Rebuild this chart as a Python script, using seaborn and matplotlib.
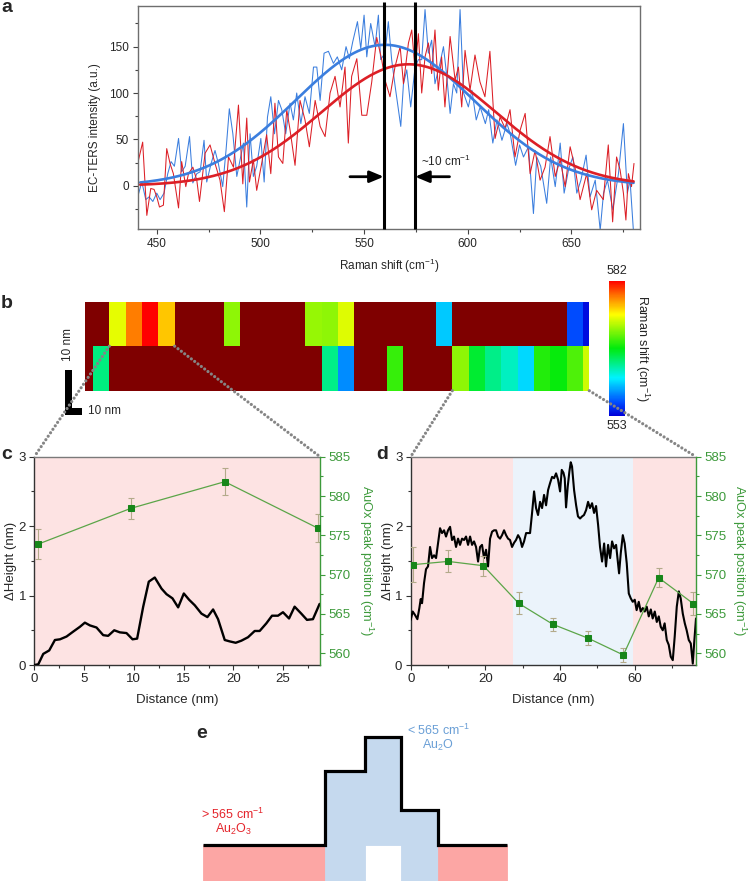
import numpy as np
import pandas as pd
import matplotlib
matplotlib.use("Agg")
import matplotlib.pyplot as plt
import seaborn as sns
from matplotlib.colors import LinearSegmentedColormap
from matplotlib.patches import ConnectionPatch, Rectangle
from matplotlib.ticker import MultipleLocator

# ---------------- panel a : EC-TERS spectra ----------------
red_shift = [440.8, 443.2, 445.2, 447.1, 448.7, 450.0, 451.3, 453.2, 454.8, 456.4,
             458.0, 460.5, 462.0, 464.0, 465.3, 467.4, 469.3, 470.6, 473.3, 475.7,
             478.1, 480.5, 482.6, 484.6, 487.0, 489.4, 491.5, 493.4, 494.7, 496.6,
             498.2, 500.6, 503.0, 505.0, 507.0, 508.7, 510.8, 512.7, 514.3, 516.7,
             519.1, 521.5, 523.6, 526.4, 528.8, 531.2, 533.6, 536.0, 538.4, 540.8,
             542.4, 544.0, 546.5, 548.9, 551.3, 553.7, 556.1, 558.5, 560.1, 562.5,
             564.9, 567.4, 569.0, 571.4, 573.0, 574.6, 576.2, 577.8, 579.4, 581.0,
             582.6, 584.2, 585.8, 587.4, 589.0, 591.5, 593.9, 595.5, 597.1, 598.7,
             601.1, 603.5, 605.9, 608.3, 610.7, 613.2, 615.6, 618.0, 620.4, 622.8,
             625.3, 627.7, 630.1, 632.5, 634.9, 637.3, 639.7, 642.2, 644.6, 647.0,
             649.4, 651.8, 654.2, 657.4, 659.8, 662.2, 665.4, 667.8, 669.9, 671.8,
             673.5, 675.1, 676.3, 677.5, 679.0, 680.2]
red_counts = [24, 47, -32, -3, -4, -12, -23, -21, 40, 24,
              13, -24, 26, -1, 13, 20, 6, -17, 35, 44,
              24, 6, -28, 31, 20, 87, 2, 73, 4, 28,
              -5, 24, 55, 13, 89, 31, 24, 82, 60, 22,
              92, 71, 42, 92, 64, 53, 100, 118, 85, 128,
              46, 118, 137, 76, 76, 112, 160, 136, 114, 96,
              128, 150, 110, 154, 168, 125, 164, 100, 139, 154,
              121, 168, 103, 139, 85, 161, 114, 128, 85, 146,
              103, 141, 112, 96, 145, 51, 74, 62, 82, 31,
              60, 78, 13, 38, 6, 20, 53, 10, 28, -1,
              42, 19, -15, 13, -26, -5, -15, 44, -39, 31,
              17, -8, -37, 13, -1, 24]
blue_shift = [440.8, 442.8, 444.7, 446.3, 448.1, 450.0, 451.6, 453.5, 455.3, 456.9,
              458.5, 460.5, 462.0, 463.7, 465.8, 467.4, 469.3, 470.9, 472.8, 474.1,
              476.2, 478.1, 479.7, 481.8, 483.4, 485.0, 486.7, 488.6, 490.2, 491.8,
              493.4, 495.0, 496.6, 498.2, 500.2, 501.8, 503.4, 505.0, 506.8, 508.7,
              510.3, 512.2, 514.3, 515.9, 517.5, 519.5, 521.5, 523.6, 525.6, 527.2,
              528.8, 530.7, 532.8, 535.2, 537.1, 539.2, 541.3, 542.9, 544.5, 546.8,
              548.4, 550.0, 551.3, 553.2, 555.3, 556.9, 558.0, 560.1, 561.7, 563.3,
              565.0, 567.7, 569.0, 570.6, 572.5, 574.6, 576.2, 577.8, 579.4, 581.0,
              582.6, 584.2, 586.6, 588.3, 589.9, 591.5, 593.1, 594.7, 596.3, 598.0,
              600.3, 602.0, 604.1, 606.0, 608.5, 610.1, 612.1, 614.1, 616.5, 618.9,
              620.5, 623.1, 625.0, 626.9, 629.3, 631.7, 633.3, 635.2, 638.1, 640.0,
              642.2, 644.6, 646.5, 648.6, 650.7, 652.6, 654.6, 657.1, 659.0, 661.5,
              663.9, 665.5, 667.4, 670.0, 672.7, 675.1, 677.0, 678.3, 679.9]
blue_counts = [-12, 4, -15, -12, -17, -8, -15, -8, 13, 26,
               21, 51, 15, 21, 53, 3, 13, 15, 49, 4,
               24, 38, 24, -1, 38, 83, 56, 10, 28, 46,
               -23, 56, 10, 21, 51, 4, 74, 96, 56, 92,
               82, 56, 89, 71, 100, 67, 96, 78, 128, 128,
               92, 143, 145, 132, 139, 125, 150, 137, 155, 177,
               148, 184, 139, 175, 150, 184, 136, 143, 177, 136,
               107, 64, 110, 125, 85, 128, 136, 136, 190, 143,
               157, 110, 132, 150, 118, 78, 110, 100, 190, 100,
               85, 103, 71, 85, 67, 82, 46, 71, 49, 67,
               56, 22, 44, 31, 42, -30, 31, 21, -19, 31,
               -1, 46, -8, 17, 31, -8, 6, 33, -12, 6,
               -48, -8, 6, -26, 13, 67, -8, 6, -48]
# Gaussian fits (blue, red): amplitude, centre, sigma
fit_amp = [152, 131]
fit_center = [560.0, 571.5]
fit_sigma = [43.0, 42.0]
peak_lines = [559.5, 574.6]

# ---------------- panel b : peak-position map ----------------
nan = np.nan
map_top = [nan, nan, 574.0, 578.5, 582.0, 576.4, nan, nan, nan, 571.5,
           nan, nan, nan, nan, 571.8, 571.5, 573.8, nan, nan, nan,
           nan, nan, 559.8, nan, nan, nan, nan, nan, nan, nan,
           555.9, 553.5]
map_bottom = [nan, 564.5, nan, nan, nan, nan, nan, nan, nan, nan,
              nan, nan, nan, nan, nan, 564.3, 557.9, nan, nan, 569.0,
              nan, nan, nan, 571.5, 566.5, 564.3, 562.8, 560.3, 568.5, 567.7,
              569.7, 573.3]
map_vmin, map_vmax = 553, 582

# ---------------- panel c ----------------
c_dist = [0, 0.4, 0.9, 1.5, 2.07, 2.58, 3.24, 3.9, 4.58, 5.08,
          5.59, 6.25, 6.92, 7.42, 8.03, 8.6, 9.26, 9.87, 10.33, 10.94,
          11.5, 12.1, 12.78, 13.28, 13.88, 14.45, 15.02, 15.55, 16.12, 16.79,
          17.39, 17.96, 18.46, 19.13, 19.63, 20.23, 20.8, 21.47, 22.14, 22.64,
          23.31, 23.88, 24.48, 24.98, 25.59, 26.15, 26.82, 27.39, 27.99, 28.66]
c_height = [0, 0.01, 0.16, 0.21, 0.36, 0.37, 0.41, 0.48, 0.55, 0.61,
            0.57, 0.54, 0.43, 0.42, 0.5, 0.47, 0.46, 0.37, 0.38, 0.84,
            1.2, 1.26, 1.1, 1.02, 0.96, 0.83, 1.03, 0.94, 0.86, 0.74,
            0.69, 0.8, 0.66, 0.36, 0.34, 0.32, 0.35, 0.4, 0.49, 0.49,
            0.6, 0.71, 0.71, 0.76, 0.67, 0.84, 0.74, 0.65, 0.66, 0.88]
c_pos = [0.33, 9.7, 19.13, 28.5]
c_peak = [573.85, 578.43, 581.82, 575.9]
c_err = [1.9, 1.3, 1.75, 1.8]
c_edges = [0, 28.7]
c_phase = ["Au2O3"]

# ---------------- panel d ----------------
d_dist = [0, 0.54, 1.16, 1.79, 2.32, 2.68, 3.04, 3.57, 4.1, 4.64,
          5.18, 5.71, 6.25, 6.79, 7.32, 7.86, 8.39, 8.93, 9.46, 10,
          10.54, 11.07, 11.6, 12.14, 12.68, 13.21, 13.75, 14.29, 14.82, 15.36,
          15.9, 16.43, 16.96, 17.5, 18.04, 18.57, 19.1, 19.64, 20.18, 20.71,
          21.25, 21.79, 22.32, 22.86, 23.39, 23.93, 24.46, 25, 25.54, 26.07,
          26.6, 27.14, 27.68, 28.2, 28.75, 29.29, 29.82, 30.36, 30.9, 31.43,
          31.96, 32.5, 33.04, 33.57, 34.1, 34.64, 35.18, 35.71, 36.25, 36.79,
          37.32, 37.86, 38.4, 38.93, 39.46, 40, 40.45, 40.9, 41.25, 41.6,
          42.05, 42.5, 42.86, 43.2, 43.75, 44.3, 44.8, 45.36, 45.9, 46.4,
          46.96, 47.5, 48, 48.57, 49.1, 49.64, 50.18, 50.7, 51.25, 51.8,
          52.3, 52.86, 53.4, 53.93, 54.46, 55, 55.54, 55.8, 56.25, 56.8,
          57.3, 57.86, 58.4, 58.93, 59.46, 60, 60.5, 61.07, 61.6, 62.14,
          62.68, 63.2, 63.75, 64.3, 64.8, 65.36, 65.9, 66.43, 66.96, 67.5,
          68, 68.57, 69.1, 69.64, 70.18, 70.7, 71.25, 71.8, 72.3, 72.86,
          73.4, 73.9, 74.46, 75, 75.54, 75.9, 76.4]
d_height = [0.65, 0.77, 0.72, 0.66, 0.82, 0.95, 0.89, 1.18, 1.38, 1.42,
            1.7, 1.54, 1.58, 1.54, 1.75, 1.97, 1.9, 1.94, 1.85, 1.94,
            1.99, 1.8, 1.85, 1.7, 1.82, 1.73, 1.82, 1.8, 1.85, 1.73,
            1.85, 1.73, 1.78, 1.7, 1.49, 1.7, 1.73, 1.54, 1.66, 1.42,
            1.82, 1.92, 1.94, 1.94, 1.85, 1.82, 1.87, 1.94, 1.87, 1.82,
            1.8, 1.7, 1.76, 1.8, 1.87, 1.82, 1.7, 1.78, 1.9, 1.9,
            1.9, 2.19, 2.5, 2.26, 2.16, 2.35, 2.26, 2.45, 2.3, 2.52,
            2.62, 2.71, 2.69, 2.76, 2.67, 2.5, 2.81, 2.77, 2.69, 2.27,
            2.57, 2.79, 2.92, 2.86, 2.52, 2.3, 2.14, 2.11, 2.14, 2.16,
            2.23, 2.35, 2.26, 2.33, 2.19, 2.29, 2.02, 1.7, 1.49, 1.75,
            1.42, 1.73, 1.54, 1.78, 1.68, 1.73, 1.46, 1.32, 1.61, 1.87,
            1.75, 1.46, 1.03, 0.96, 0.91, 0.94, 0.79, 0.91, 0.77, 0.82,
            0.77, 0.84, 0.7, 0.8, 0.67, 0.77, 0.62, 0.7, 0.55, 0.5,
            0.6, 0.36, 0.29, 0.12, 0.07, 0.41, 0.84, 1.06, 0.96, 0.74,
            0.6, 0.5, 0.36, 0.31, 0.02, 0.31, 0.67]
d_pos = [0.54, 10.0, 19.46, 28.93, 38.1, 47.6, 56.96, 66.4, 75.7]
d_peak = [571.26, 571.68, 571.13, 566.34, 563.67, 561.89, 559.77, 569.6, 566.3]
d_err = [2.2, 1.4, 1.3, 1.4, 0.8, 0.9, 0.95, 1.23, 1.44]
d_edges = [0, 27.5, 59.4, 76.4]
d_phase = ["Au2O3", "Au2O", "Au2O3"]

# ---------------- panel e : schematic ----------------
e_edges = [0, 12.2, 16.2, 19.8, 23.5, 30.4]
e_levels = [0, 7.4, 10.8, 3.5, 0]
e_floor = [-3.6, -3.6, 0, -3.6, -3.6]
e_phase = ["Au2O3", "Au2O", "Au2O", "Au2O", "Au2O3"]

# ---------------- styling ----------------
sns.set_theme(style="ticks")
plt.rcParams["font.family"] = ["Liberation Sans", "DejaVu Sans"]
plt.rcParams["mathtext.fontset"] = "custom"
plt.rcParams["mathtext.rm"] = "Liberation Sans"
plt.rcParams["mathtext.it"] = "Liberation Sans:italic"
plt.rcParams["mathtext.bf"] = "Liberation Sans:bold"
plt.rcParams["mathtext.default"] = "regular"

BLUE = "#3b7ede"
RED = "#dc1f26"
GREEN_LINE = "#5ba548"
GREEN_MK = "#17861a"
GREEN_TXT = "#3d9a3b"
ERR_C = "#b3aa8a"
BG = {"Au2O3": "#fde3e3", "Au2O": "#ebf3fb"}
E_FILL = {"Au2O3": "#fca6a4", "Au2O": "#c5d9ee"}
SPINE = "#6e6e6e"

W, H = 749, 881
fig = plt.figure(figsize=(W / 100, H / 100), dpi=100)


def box(l, t, r, b):
    return [l / W, 1 - b / H, (r - l) / W, (b - t) / H]


def ftext(px, py, s, **kw):
    fig.text(px / W, 1 - py / H, s, **kw)


# ---------- a ----------
ax_a = fig.add_axes(box(137.7, 5.7, 640, 229))
sns.lineplot(x=blue_shift, y=blue_counts, ax=ax_a, color=BLUE, lw=0.75,
             sort=False, estimator=None)
sns.lineplot(x=red_shift, y=red_counts, ax=ax_a, color=RED, lw=0.75,
             sort=False, estimator=None)
fit_x = np.linspace(442, 680, 400)
for amp, cen, sig, col in zip(fit_amp, fit_center, fit_sigma, [BLUE, RED]):
    sns.lineplot(x=fit_x, y=amp * np.exp(-(fit_x - cen) ** 2 / (2 * sig ** 2)),
                 ax=ax_a, color=col, lw=1.9, sort=False, estimator=None)
ax_a.set_xlim(440.8, 683.1)
ax_a.set_ylim(-46.7, 194.2)
ax_a.vlines(peak_lines, -46.7, 198.3, colors="black", lw=2.2, clip_on=False, zorder=5)
arrow_y = 9.7
ap = dict(arrowstyle="-|>,head_length=0.6,head_width=0.25", color="black", lw=2,
          mutation_scale=14, shrinkA=0, shrinkB=0)
ax_a.annotate("", xy=(peak_lines[0], arrow_y), xytext=(peak_lines[0] - 16.3, arrow_y),
              arrowprops=ap, zorder=6)
ax_a.annotate("", xy=(peak_lines[1], arrow_y), xytext=(peak_lines[1] + 16.6, arrow_y),
              arrowprops=ap, zorder=6)
ax_a.text(577.3, 26, r"~10 cm$^{-1}$", fontsize=8.5, ha="left", va="center")
ax_a.xaxis.set_major_locator(MultipleLocator(50))
ax_a.xaxis.set_minor_locator(MultipleLocator(25))
ax_a.yaxis.set_major_locator(MultipleLocator(50))
ax_a.yaxis.set_minor_locator(MultipleLocator(25))
ax_a.tick_params(which="both", direction="out", color="#444", width=0.8, labelsize=8.5,
                 pad=3)
ax_a.tick_params(which="major", length=3.5)
ax_a.tick_params(which="minor", length=2)
for s in ax_a.spines.values():
    s.set_color(SPINE)
    s.set_linewidth(1)
ax_a.set_xlabel(r"Raman shift (cm$^{-1}$)", fontsize=8.5, va="center")
ax_a.set_ylabel("EC-TERS intensity (a.u.)", fontsize=8.5, va="center")
ax_a.xaxis.set_label_coords(0.5, -0.166)
ax_a.yaxis.set_label_coords(-0.085, 0.455)

# ---------- b ----------
cmap = LinearSegmentedColormap.from_list(
    "raman", [(0.0, (0, 0, 0.85)), (0.1, (0, 0.3, 1)), (0.28, (0, 0.95, 1)),
              (0.5, (0, 0.92, 0.05)), (0.75, (1, 1, 0)), (0.88, (1, 0.5, 0)),
              (1.0, (1, 0, 0))])
ax_b = fig.add_axes(box(85, 301.7, 589.3, 390.7))
cax = fig.add_axes(box(609.3, 280.7, 625.3, 416))
hm = pd.DataFrame([map_top, map_bottom])
sns.heatmap(hm, ax=ax_b, cmap=cmap, vmin=map_vmin, vmax=map_vmax, cbar_ax=cax,
            xticklabels=False, yticklabels=False)
ax_b.set_facecolor("#7f0000")
ax_b.set_xlim(0.51, 31.39)
ax_b.set_ylim(2, 0)
ax_b.set_xlabel("")
ax_b.set_ylabel("")
cbar = ax_b.collections[0].colorbar
cbar.outline.set_visible(False)
cbar.set_ticks([])
cax.text(0.5, 1.03, str(map_vmax), transform=cax.transAxes, ha="center", va="bottom",
         fontsize=9)
cax.text(0.5, -0.03, str(map_vmin), transform=cax.transAxes, ha="center", va="top",
         fontsize=9)
cax.text(2.03, 0.5, r"Raman shift (cm$^{-1}$)", transform=cax.transAxes, rotation=270,
         ha="center", va="center", fontsize=9)
# scale bar (10 nm = one map cell)
ax_b.add_patch(Rectangle((-0.714, 1.546), 0.41, 1.0, color="black", clip_on=False, lw=0))
ax_b.add_patch(Rectangle((-0.714, 2.396), 1.02, 0.15, color="black", clip_on=False, lw=0))
ax_b.text(-0.51, 0.97, "10 nm", rotation=90, ha="center", va="center", fontsize=8.5,
          clip_on=False)
ax_b.text(0.69, 2.46, "10 nm", ha="left", va="center", fontsize=8.5, clip_on=False)

# ---------- c / d ----------
ax_c = fig.add_axes(box(34.3, 456.7, 320, 665))
ax_d = fig.add_axes(box(410.7, 456.7, 696, 665))


def profile_panel(ax, dist, height, pos, peak, err, edges, phases, xmax, xmaj, xmin, lw,
                  rlab_x):
    for x0, x1, ph in zip(edges[:-1], edges[1:], phases):
        ax.axvspan(x0, x1, color=BG[ph], lw=0, zorder=0)
    sns.lineplot(x=dist, y=height, ax=ax, color="black", lw=lw, sort=False,
                 estimator=None, zorder=3)
    ax.set_xlim(0, xmax)
    ax.set_ylim(0, 3)
    ax.xaxis.set_major_locator(MultipleLocator(xmaj))
    ax.xaxis.set_minor_locator(MultipleLocator(xmin))
    ax.yaxis.set_major_locator(MultipleLocator(1))
    ax.yaxis.set_minor_locator(MultipleLocator(0.5))
    ax.tick_params(which="both", direction="out", color="#333", width=0.8,
                   labelsize=9.5, pad=2.5)
    ax.tick_params(which="major", length=3.5)
    ax.tick_params(which="minor", length=2)
    ax.spines["right"].set_visible(False)
    ax.spines["top"].set_color("#7a7a7a")
    ax.spines["left"].set_color("#333")
    ax.spines["bottom"].set_color("#333")
    for s in ax.spines.values():
        s.set_linewidth(1)
    ax.set_xlabel("Distance (nm)", fontsize=9.5, va="center")
    ax.set_ylabel("ΔHeight (nm)", fontsize=9.5, va="center")
    ax.xaxis.set_label_coords(0.5, -0.168)
    ax.yaxis.set_label_coords(-0.081, 0.5)

    ax2 = ax.twinx()
    ax2.errorbar(pos, peak, yerr=err, fmt="none", ecolor=ERR_C, elinewidth=0.8,
                 capsize=2.5, capthick=0.8, zorder=2)
    sns.lineplot(x=pos, y=peak, ax=ax2, color=GREEN_LINE, lw=0.9, sort=False,
                 estimator=None, marker="s", markersize=4.2,
                 markerfacecolor=GREEN_MK, markeredgecolor=GREEN_MK, zorder=3)
    ax2.set_ylim(558.5, 585)
    ax2.yaxis.set_major_locator(MultipleLocator(5))
    ax2.yaxis.set_minor_locator(MultipleLocator(2.5))
    ax2.tick_params(axis="y", which="both", direction="out", colors=GREEN_TXT,
                    width=0.8, labelsize=9.5, pad=2.5)
    ax2.tick_params(axis="y", which="major", length=3.5)
    ax2.tick_params(axis="y", which="minor", length=2)
    for k in ["left", "top", "bottom"]:
        ax2.spines[k].set_visible(False)
    ax2.spines["right"].set_color(GREEN_TXT)
    ax2.spines["right"].set_linewidth(1)
    ax2.set_ylabel(r"AuOx peak position (cm$^{-1}$)", color=GREEN_TXT, fontsize=9.2,
                   rotation=270, va="center", ha="center")
    ax2.yaxis.set_label_coords(rlab_x, 0.5)
    return ax2


profile_panel(ax_c, c_dist, c_height, c_pos, c_peak, c_err, c_edges, c_phase,
              28.7, 5, 2.5, 1.7, 1.161)
profile_panel(ax_d, d_dist, d_height, d_pos, d_peak, d_err, d_edges, d_phase,
              76.4, 20, 10, 1.5, 1.150)

# dotted connectors from map to profiles
for xyA, axB, xyB in [((2, 1), ax_c, (0, 1)), ((6, 1), ax_c, (1, 1)),
                      ((23, 2), ax_d, (0, 1)), ((31.39, 2), ax_d, (1, 1))]:
    con = ConnectionPatch(xyA=xyA, coordsA=ax_b.transData, xyB=xyB,
                          coordsB=axB.transAxes, color="#858585", lw=2.3,
                          linestyle=(0, (0.01, 1.3)), capstyle="round", zorder=10)
    fig.add_artist(con)

# ---------- e ----------
ax_e = fig.add_axes(box(200, 725, 513.3, 881))
ax_e.set_xlim(-0.33, 31.0)
ax_e.set_ylim(-3.6, 12.0)
ax_e.axis("off")
for x0, x1, fl, lv, ph in zip(e_edges[:-1], e_edges[1:], e_floor, e_levels, e_phase):
    ax_e.fill_between([x0, x1], fl, lv, color=E_FILL[ph], lw=0.6, edgecolor=E_FILL[ph])
ax_e.plot(e_edges, e_levels + [e_levels[-1]], drawstyle="steps-post", color="black",
          lw=2.3, solid_joinstyle="miter", solid_capstyle="butt")
ax_e.text(2.97, 3.1, r"> 565 cm$^{-1}$", color="#e4242b", fontsize=9, ha="center",
          va="center")
ax_e.text(2.97, 1.55, r"Au$_2$O$_3$", color="#e4242b", fontsize=9, ha="center",
          va="center")
ax_e.text(23.5, 11.5, r"< 565 cm$^{-1}$", color="#6a9fd6", fontsize=9, ha="center",
          va="center", clip_on=False)
ax_e.text(23.5, 10.0, r"Au$_2$O", color="#6a9fd6", fontsize=9, ha="center",
          va="center", clip_on=False)

# panel letters
for lab, px, py in [("a", 1, 7), ("b", 1, 303), ("c", 1, 455), ("d", 376, 455),
                    ("e", 196, 733)]:
    ftext(px, py, lab, fontsize=14, fontweight="bold", ha="left", va="center")

fig.savefig("out.png", dpi=100)
